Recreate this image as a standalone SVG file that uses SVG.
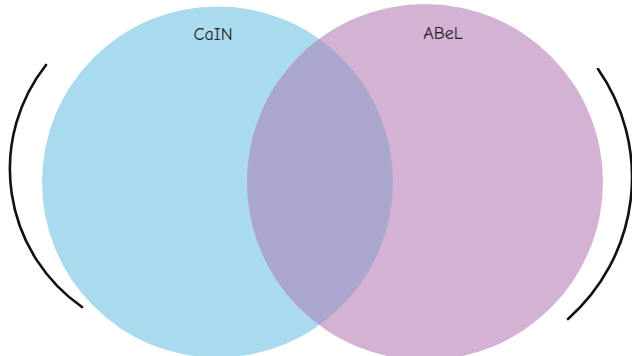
<svg xmlns="http://www.w3.org/2000/svg" width="632" height="356" viewBox="0 0 632 356">
<style>
.lbl{font-family:"Comic Neue","DejaVu Sans","Liberation Sans",sans-serif;font-size:18px;fill:#222;text-anchor:middle}
.arc{fill:none;stroke:#111;stroke-width:2.6;stroke-linecap:round}
</style>
<defs>
<clipPath id="blueClip"><circle cx="217.5" cy="182" r="175.5"/></clipPath>
</defs>
<rect width="632" height="356" fill="#fff"/>
<g id="cain">
<circle cx="217.5" cy="182" r="175.5" fill="#AADAEE"/>
<text class="lbl" x="213" y="40">CaIN</text>
</g>
<g id="abel">
<circle cx="425" cy="182" r="178" fill="#D4B2D4"/>
<text class="lbl" x="443" y="39">ABeL</text>
</g>
<g id="overlap">
<circle cx="425" cy="182" r="178" fill="#ABA6CE" clip-path="url(#blueClip)"/>
</g>
<g id="connectors">
<path class="arc" d="M46,65 A168,168 0 0 0 82,307"/>
<path class="arc" d="M598,69 A189,189 0 0 1 568,319"/>
</g>
</svg>
